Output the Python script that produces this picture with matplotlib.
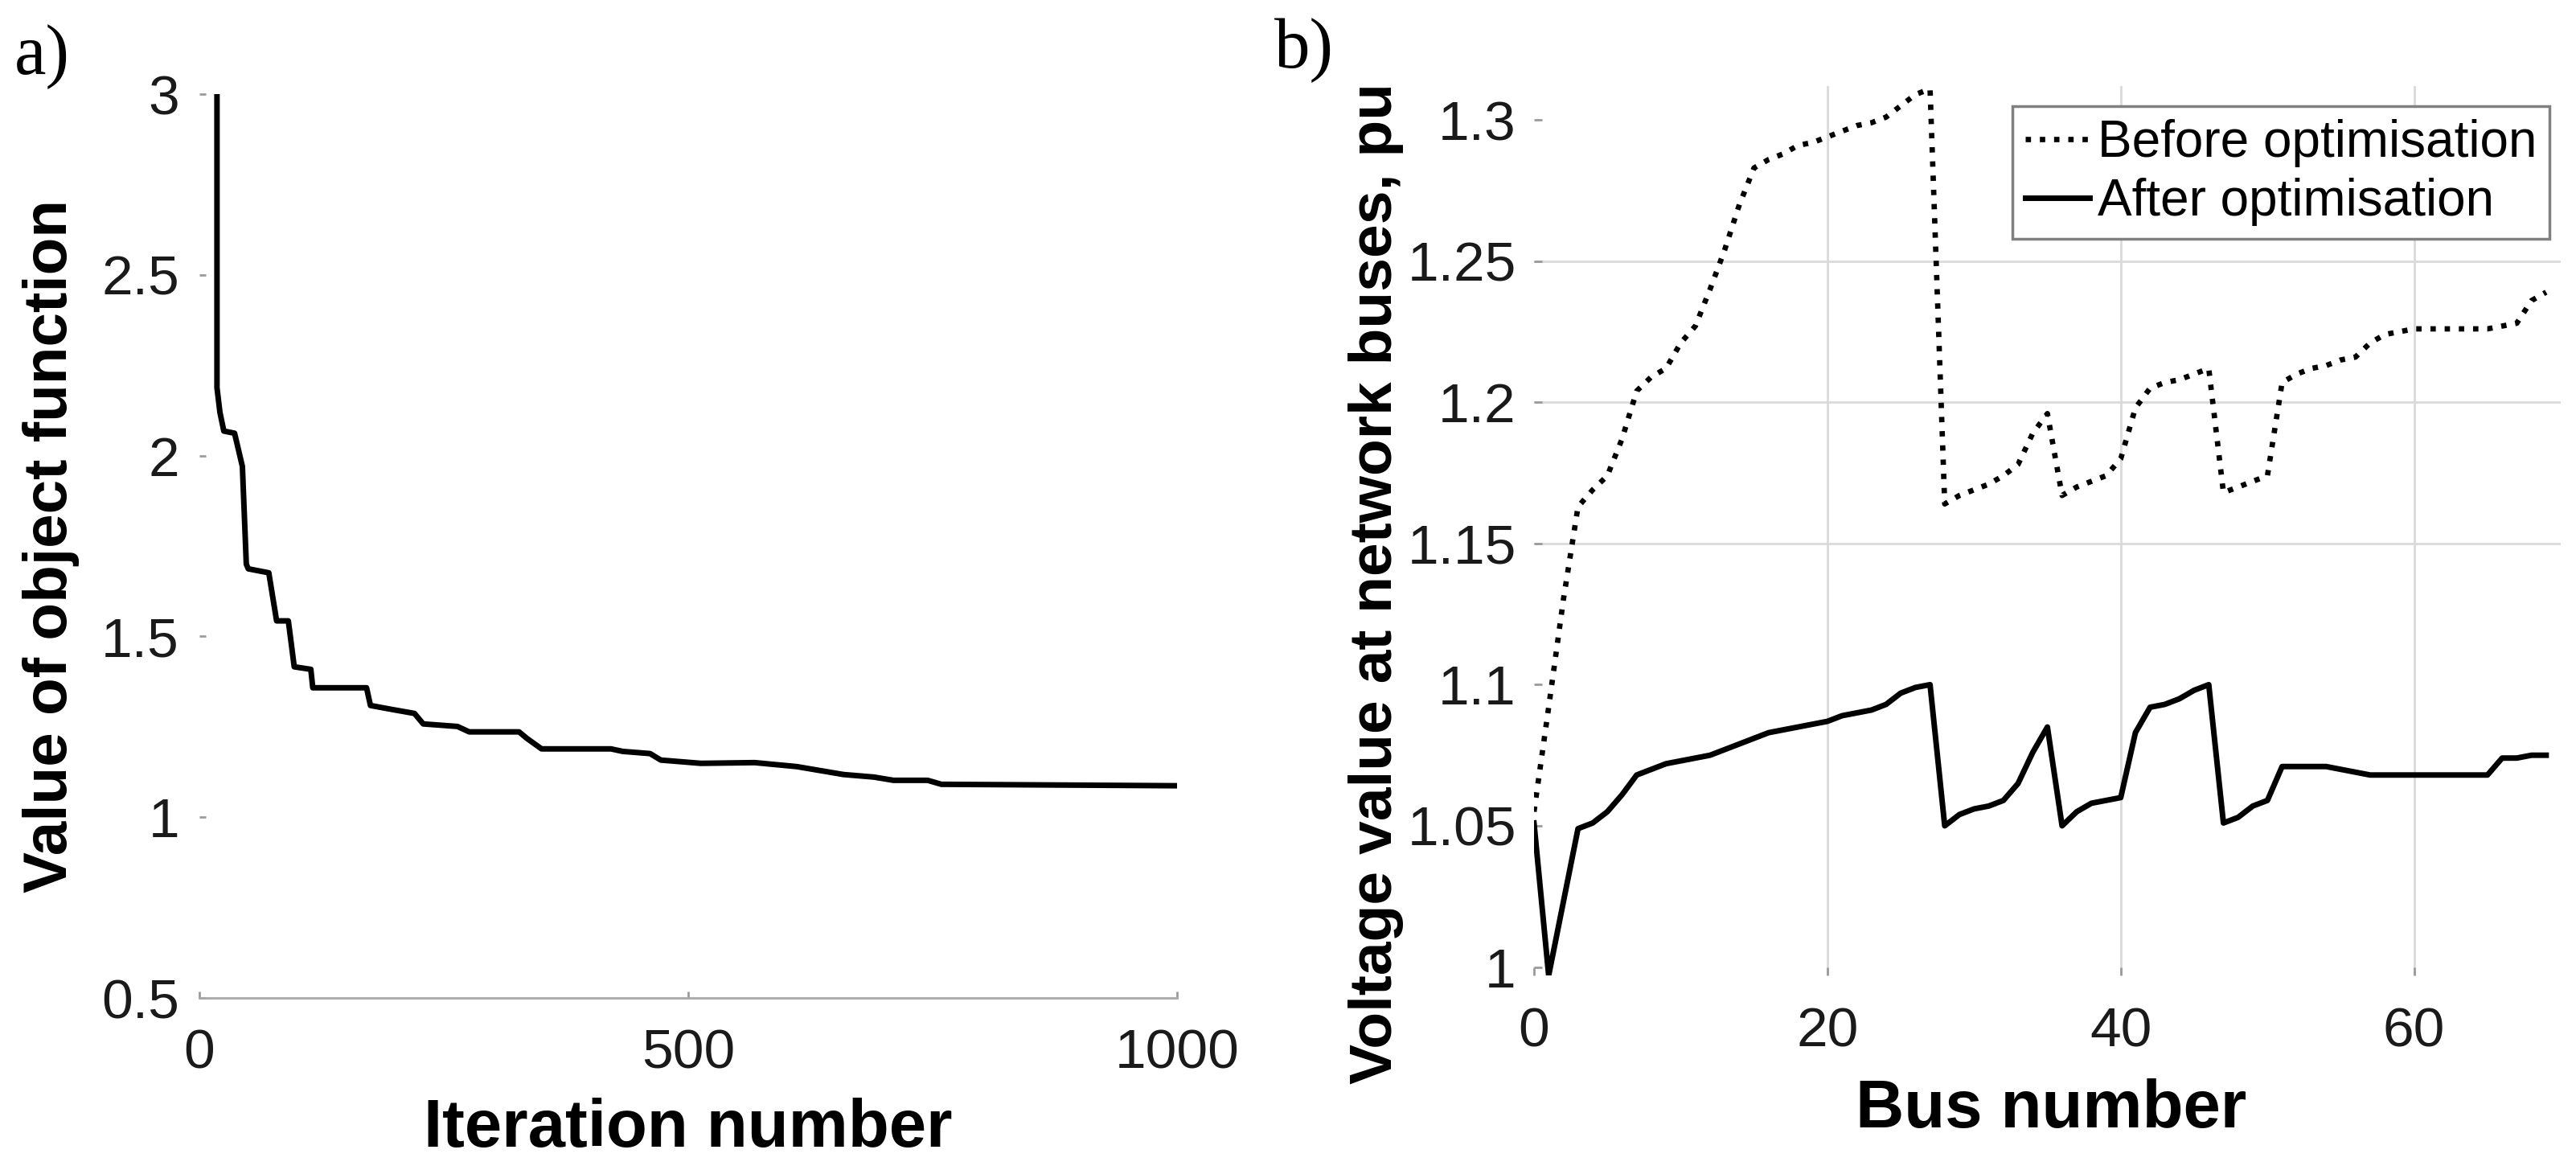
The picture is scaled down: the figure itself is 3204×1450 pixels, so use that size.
import matplotlib
matplotlib.use("Agg")
import matplotlib.pyplot as plt

plt.rcParams['font.family'] = ['Liberation Sans', 'DejaVu Sans']

# ── panel a): objective function vs iteration ───────────────────────────────
iter_num = [18, 18, 21, 25, 36, 44, 48, 50, 71, 79, 91, 94, 97, 114, 116, 171, 175,
            197, 220, 229, 264, 276, 327, 335, 350, 421, 433, 461, 472, 513, 568,
            611, 659, 690, 710, 745, 759, 1000]
obj_value = [3.0, 2.188, 2.12, 2.068, 2.062, 1.97, 1.70, 1.687, 1.676, 1.543, 1.543,
             1.48, 1.416, 1.409, 1.358, 1.358, 1.309, 1.298, 1.287, 1.258, 1.251,
             1.236, 1.236, 1.218, 1.189, 1.189, 1.182, 1.176, 1.158, 1.149, 1.151,
             1.140, 1.118, 1.111, 1.102, 1.102, 1.091, 1.087]
iter_ticks = [0, 500, 1000]
obj_ticks = [0.5, 1, 1.5, 2, 2.5, 3]

# ── panel b): bus voltages before / after ───────────────────────────────────
bus = list(range(70))
v_before = [1.055, 1.092, 1.130, 1.163, 1.169, 1.174, 1.187, 1.204, 1.209, 1.212,
            1.221, 1.227, 1.240, 1.254, 1.270, 1.283, 1.286, 1.288, 1.291, 1.292,
            1.294, 1.296, 1.298, 1.299, 1.301, 1.305, 1.309, 1.311, 1.164, 1.167,
            1.169, 1.171, 1.174, 1.178, 1.189, 1.196, 1.167, 1.170, 1.172, 1.174,
            1.180, 1.198, 1.205, 1.207, 1.208, 1.210, 1.212, 1.168, 1.170, 1.172,
            1.174, 1.207, 1.210, 1.212, 1.213, 1.215, 1.216, 1.221, 1.224, 1.225,
            1.226, 1.226, 1.226, 1.226, 1.226, 1.226, 1.227, 1.228, 1.236, 1.239]
v_after = [1.051, 0.997, 1.023, 1.049, 1.051, 1.055, 1.061, 1.068, 1.070, 1.072,
           1.073, 1.074, 1.075, 1.077, 1.079, 1.081, 1.083, 1.084, 1.085, 1.086,
           1.087, 1.089, 1.090, 1.091, 1.093, 1.097, 1.099, 1.100, 1.050, 1.054,
           1.056, 1.057, 1.059, 1.065, 1.076, 1.085, 1.050, 1.055, 1.058, 1.059,
           1.060, 1.083, 1.092, 1.093, 1.095, 1.098, 1.100, 1.051, 1.053, 1.057,
           1.059, 1.071, 1.071, 1.071, 1.071, 1.070, 1.069, 1.068, 1.068, 1.068,
           1.068, 1.068, 1.068, 1.068, 1.068, 1.068, 1.074, 1.074, 1.075, 1.075]
bus_ticks = [0, 20, 40, 60]
volt_ticks = [1.0, 1.05, 1.1, 1.15, 1.2, 1.25, 1.3]
volt_grid = [1.15, 1.2, 1.25]
series_names = ["Before optimisation", "After optimisation"]

TICK_GREY = "#9a9a9a"
GRID_GREY = "#dadada"
TXT = "#1a1a1a"

fig = plt.figure(figsize=(32.04, 14.5), dpi=100)
fig.patch.set_facecolor("white")

# ── a) ──────────────────────────────────────────────────────────────────────
ax1 = fig.add_axes([0.0774, 0.1441, 0.3795, 0.7752])
ax1.plot(iter_num, obj_value, color="black", lw=5, solid_joinstyle="round")
ax1.set_xlim(0, 1000); ax1.set_ylim(0.5, 3)
ax1.set_xticks(iter_ticks); ax1.set_yticks(obj_ticks, [f"{t:g}" for t in obj_ticks])
for s in ["left", "top", "right"]:
    ax1.spines[s].set_visible(False)
ax1.spines["bottom"].set_color("#a8a8a8"); ax1.spines["bottom"].set_linewidth(2)
ax1.tick_params(direction="in", length=6, width=2, color=TICK_GREY,
                labelsize=50, labelcolor=TXT)
ax1.tick_params(axis="x", pad=27); ax1.tick_params(axis="y", pad=18)
ax1.set_xlabel("Iteration number", fontsize=60, fontweight="bold", va="center")
ax1.xaxis.set_label_coords(0.5, -0.145)
ax1.set_ylabel("Value of object function", fontsize=55, fontweight="bold", va="center")
ax1.yaxis.set_label_coords(-0.152, 0.5)

# ── b) ──────────────────────────────────────────────────────────────────────
ax2 = fig.add_axes([0.5955, 0.1634, 0.3986, 0.7628])
for xv in bus_ticks[1:]:
    ax2.axvline(xv, color=GRID_GREY, lw=2, zorder=0)
for yv in volt_grid:
    ax2.axhline(yv, color=GRID_GREY, lw=2, zorder=0)
ax2.plot(bus, v_before, color="black", lw=4.8, ls=":", label=series_names[0])
ax2.plot(bus, v_after, color="black", lw=5, solid_joinstyle="round", label=series_names[1])
ax2.set_xlim(0, 70); ax2.set_ylim(0.997, 1.312)
ax2.set_xticks(bus_ticks); ax2.set_yticks(volt_ticks, [f"{t:g}" for t in volt_ticks])
for s in ax2.spines.values():
    s.set_visible(False)
ax2.tick_params(direction="in", length=7, width=2, color=TICK_GREY,
                labelsize=50, labelcolor=TXT)
ax2.tick_params(axis="x", pad=28); ax2.tick_params(axis="y", pad=16)
ax2.set_xlabel("Bus number", fontsize=60, fontweight="bold", va="center")
ax2.xaxis.set_label_coords(0.5035, -0.151)
ax2.set_ylabel("Voltage value at network buses, pu", fontsize=54, fontweight="bold", va="center")
ax2.yaxis.set_label_coords(-0.1535, 0.441)
leg = ax2.legend(loc="upper right", bbox_to_anchor=(0.989, 0.977), fontsize=46,
                 frameon=True, fancybox=False, framealpha=1, edgecolor="#808080",
                 handlelength=1.25, handletextpad=0.15, labelspacing=0.2,
                 borderpad=0.25, borderaxespad=0)
leg.get_frame().set_linewidth(2.5)

# panel letters
fig.text(18 / 3204, 1 - 30 / 1450, "a)", family=["Liberation Serif", "DejaVu Serif"],
         fontsize=64, va="top", ha="left")
fig.text(1585 / 3204, 1 - 22 / 1450, "b)", family=["Liberation Serif", "DejaVu Serif"],
         fontsize=64, va="top", ha="left")

fig.savefig("out.png", dpi=100, facecolor="white")
